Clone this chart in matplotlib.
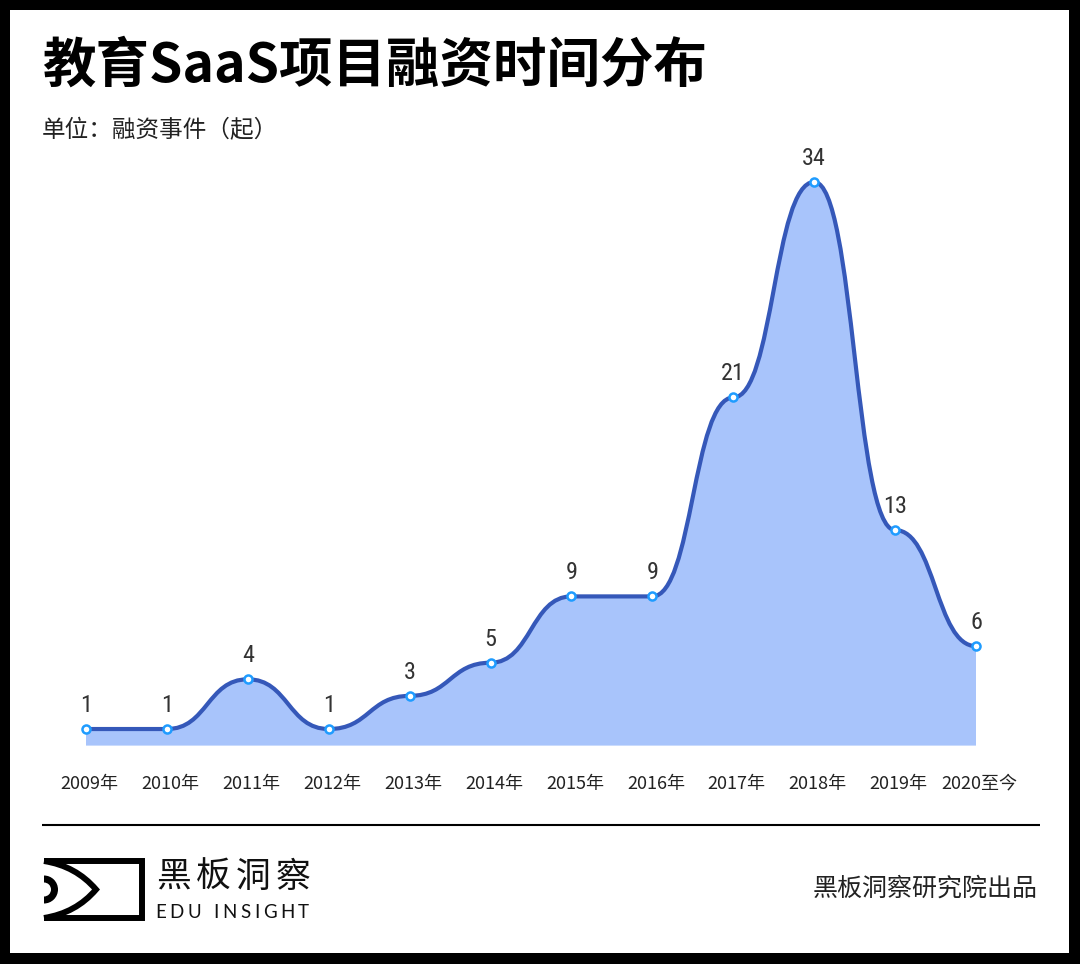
import numpy as np
import matplotlib.pyplot as plt
from matplotlib.path import Path
from matplotlib.patches import PathPatch, Rectangle, Wedge
from matplotlib.transforms import ScaledTranslation

plt.rcParams['font.family'] = ['Noto Sans CJK SC', 'DejaVu Sans']

# data
years = ['2009年', '2010年', '2011年', '2012年', '2013年', '2014年',
         '2015年', '2016年', '2017年', '2018年', '2019年', '2020至今']
counts = [1, 1, 4, 1, 3, 5, 9, 9, 21, 34, 13, 6]

title = '教育SaaS项目融资时间分布'
subtitle = '单位：融资事件（起）'
source = '黑板洞察研究院出品'

W, H = 1080, 964
fig = plt.figure(figsize=(W / 100, H / 100), dpi=100, facecolor='black')

# overlay in pixel coords (y down)
bg = fig.add_axes([0, 0, 1, 1])
bg.set_xlim(0, W)
bg.set_ylim(H, 0)
bg.axis('off')
bg.add_patch(Rectangle((10, 10), 1059, 943, facecolor='white', edgecolor='none'))

bg.text(42, 66, title, fontsize=38.5, fontweight='bold', color='black',
        ha='left', va='center')
bg.text(42, 131, subtitle, fontsize=17, color='#222222', ha='left', va='center')

# separator
bg.plot([42, 1040], [825, 825], color='black', lw=1.5, solid_capstyle='butt')

# logo
lw_logo = 4.3
bg.plot([44, 142, 142, 44], [861, 861, 918, 918], color='black', lw=lw_logo,
        solid_joinstyle='miter', solid_capstyle='butt')
chev = Path([(44, 861), (76, 866), (96, 889.5), (76, 913), (44, 918)],
            [Path.MOVETO, Path.CURVE3, Path.CURVE3, Path.CURVE3, Path.CURVE3])
bg.add_patch(PathPatch(chev, facecolor='none', edgecolor='black', lw=lw_logo,
                       capstyle='butt', joinstyle='miter'))
bg.add_patch(Wedge((44, 889.5), 14, -90, 90, width=7, facecolor='black',
                   edgecolor='none'))
for i, ch in enumerate('黑板洞察'):
    bg.text(173 + 40 * i, 877, ch, fontsize=25, color='#111111',
            ha='center', va='center')

# letter-spaced "EDU INSIGHT"
renderer = fig.canvas.get_renderer()
cx = 155
for ch in 'EDU INSIGHT':
    t = bg.text(cx, 912, ch, fontsize=13.5, color='#111111',
                family=['Lato', 'DejaVu Sans'], ha='left', va='center')
    w = t.get_window_extent(renderer).width if ch != ' ' else 5
    cx += w + 3.6

bg.text(1038, 889, source, fontsize=18, color='#222222', ha='right', va='center')

# main chart
ax = fig.add_axes([86 / W, 1 - 745.6 / H, 890 / W, 563.6 / H])
ax.set_facecolor('none')
x = np.arange(len(counts))
y = np.array(counts, dtype=float)
ax.set_xlim(x[0], x[-1])
ax.set_ylim(0, 34)

verts = [(x[0], y[0])]
codes = [Path.MOVETO]
for i in range(len(x) - 1):
    dx = x[i + 1] - x[i]
    verts += [(x[i] + 0.5 * dx, y[i]), (x[i + 1] - 0.5 * dx, y[i + 1]), (x[i + 1], y[i + 1])]
    codes += [Path.CURVE4] * 3
line_path = Path(verts, codes)
fill_path = Path(verts + [(x[-1], 0), (x[0], 0), (x[0], y[0])],
                 codes + [Path.LINETO, Path.LINETO, Path.CLOSEPOLY])
ax.add_patch(PathPatch(fill_path, facecolor='#a8c4fb', edgecolor='none', zorder=1))
ax.add_patch(PathPatch(line_path, facecolor='none', edgecolor='#3558b9', lw=3.0,
                       capstyle='round', zorder=2, clip_on=False))
ax.plot(x, y, 'o', ms=5.8, mfc='white', mec='#1f9cff', mew=1.8, zorder=3, clip_on=False)

for xi, yi in zip(x, counts):
    ax.annotate(str(yi), (xi, yi), xytext=(0, 17), textcoords='offset points',
                ha='center', va='center', fontsize=17.5, color='#333333',
                family=['Roboto Condensed', 'DejaVu Sans'], fontstretch='condensed')

for s in ax.spines.values():
    s.set_visible(False)
ax.set_yticks([])
ax.set_xticks(x)
ax.set_xticklabels(years, fontsize=13, color='#222222')
ax.tick_params(axis='x', length=0, pad=21)
for lab in ax.get_xticklabels():
    lab.set_transform(lab.get_transform() + ScaledTranslation(0.035, 0, fig.dpi_scale_trans))

fig.savefig('out.png', dpi=100, facecolor='black')
